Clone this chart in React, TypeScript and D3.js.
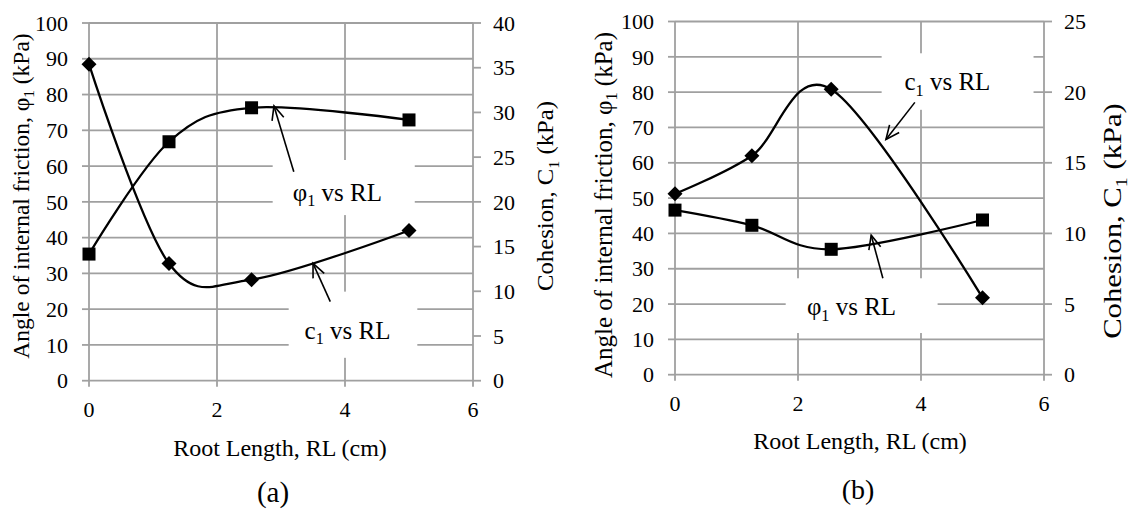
import React from "react";
import * as d3 from "d3";

// Root length (cm) at which the samples were tested
const rootLength = [0, 1.25, 2.54, 5];

// panel (a)
const phiA = [35.4, 66.8, 76.3, 72.9];
const cohesionA = [35.4, 13.1, 11.3, 16.8];

// panel (b)
const phiB = [46.6, 42.3, 35.5, 43.8];
const cohesionB = [12.8, 15.5, 20.2, 5.45];

const xTicks = [0, 2, 4, 6];
const leftTicks = [0, 10, 20, 30, 40, 50, 60, 70, 80, 90, 100];
const rightTicksA = [0, 5, 10, 15, 20, 25, 30, 35, 40];
const rightTicksB = [0, 5, 10, 15, 20, 25];

const FONT = "Liberation Serif, Times New Roman, serif";
const GRID = "#a0a0a0";

type Note = {
  sym: string;
  text: [number, number];
  box: [number, number, number, number];
  arrow: [number, number, number, number];
};

type PanelProps = {
  xr: [number, number];
  yr: [number, number];
  rightTicks: number[];
  phi: number[];
  coh: number[];
  notes: Note[];
  yTitle: [number, number, number];
  rTitle: [number, number, number, number];
  xTitle: [number, number];
  caption: [number, number, number, string];
};

const Label = ({ x, y, sym, size }: { x: number; y: number; sym: string; size: number }) => (
  <text x={x} y={y} textAnchor="middle" dy="0.35em" style={{ fontSize: size }}>
    {sym}
    <tspan style={{ fontSize: size * 0.65 }} dy={size * 0.22}>1</tspan>
    <tspan dy={-size * 0.22}> vs RL</tspan>
  </text>
);

const Panel = ({ xr, yr, rightTicks, phi, coh, notes, yTitle, rTitle, xTitle, caption }: PanelProps) => {
  const x = d3.scaleLinear().domain([0, 6]).range(xr);
  const yL = d3.scaleLinear().domain([0, 100]).range(yr);
  const rMax = rightTicks[rightTicks.length - 1];
  const yR = d3.scaleLinear().domain([0, rMax]).range(yr);

  // Excel style smoothed line ~ uniform Catmull-Rom
  const curve = d3.curveCardinal.tension(0);
  const phiLine = d3
    .line<number>()
    .x((_, i) => x(rootLength[i]))
    .y((d) => yL(d))
    .curve(curve);
  const cohLine = d3
    .line<number>()
    .x((_, i) => x(rootLength[i]))
    .y((d) => yR(d))
    .curve(curve);

  const [xa, xb] = xr;
  const [yb, yt] = yr;

  const arrow = (n: Note) => {
    const [fx, fy, tx, ty] = n.arrow;
    const x1 = x(fx), y1 = yL(fy), x2 = x(tx), y2 = yL(ty);
    const ang = Math.atan2(y1 - y2, x1 - x2);
    const len = 15, spread = 0.42;
    const p = (a: number) => `${x2 + len * Math.cos(a)},${y2 + len * Math.sin(a)}`;
    return (
      <g stroke="#000" strokeWidth={1.6} fill="none">
        <line x1={x1} y1={y1} x2={x2} y2={y2} />
        <polyline points={`${p(ang - spread)} ${x2},${y2} ${p(ang + spread)}`} />
      </g>
    );
  };

  return (
    <g>
      {/* grid */}
      {leftTicks.map((t) => (
        <line key={"h" + t} x1={xa} x2={xb} y1={yL(t)} y2={yL(t)} stroke={GRID} strokeWidth={1.8} />
      ))}
      {xTicks.map((t) => (
        <line key={"v" + t} x1={x(t)} x2={x(t)} y1={yb} y2={yt} stroke={GRID} strokeWidth={1.8} />
      ))}
      {/* tick marks */}
      {leftTicks.map((t) => (
        <line key={"lt" + t} x1={xa - 7} x2={xa} y1={yL(t)} y2={yL(t)} stroke={GRID} strokeWidth={1.8} />
      ))}
      {rightTicks.map((t) => (
        <line key={"rt" + t} x1={xb} x2={xb + 8} y1={yR(t)} y2={yR(t)} stroke={GRID} strokeWidth={1.8} />
      ))}
      {xTicks.map((t) => (
        <line key={"bt" + t} x1={x(t)} x2={x(t)} y1={yb} y2={yb + 6} stroke={GRID} strokeWidth={1.8} />
      ))}

      {/* tick labels */}
      <g style={{ fontSize: 22 }}>
        {leftTicks.map((t) => (
          <text key={"ll" + t} x={xa - 21} y={yL(t)} dy="0.35em" textAnchor="end">{t}</text>
        ))}
        {rightTicks.map((t) => (
          <text key={"rl" + t} x={xb + 20} y={yR(t)} dy="0.35em" textAnchor="start">{t}</text>
        ))}
        {xTicks.map((t) => (
          <text key={"bl" + t} x={x(t)} y={yb + 36} textAnchor="middle">{t}</text>
        ))}
      </g>

      {/* annotation boxes hide the grid */}
      {notes.map((n, i) => (
        <rect
          key={"b" + i}
          x={x(n.box[0])}
          y={yL(n.box[3])}
          width={x(n.box[1]) - x(n.box[0])}
          height={yL(n.box[2]) - yL(n.box[3])}
          fill="#fff"
        />
      ))}
      {notes.map((n, i) => (
        <g key={"n" + i}>
          <Label x={x(n.text[0])} y={yL(n.text[1])} sym={n.sym} size={25} />
          {arrow(n)}
        </g>
      ))}

      {/* series */}
      <path d={phiLine(phi) ?? ""} fill="none" stroke="#000" strokeWidth={2.3} />
      <path d={cohLine(coh) ?? ""} fill="none" stroke="#000" strokeWidth={2.3} />
      {phi.map((d, i) => (
        <rect key={"s" + i} x={x(rootLength[i]) - 6.5} y={yL(d) - 6.5} width={13} height={13} fill="#000" />
      ))}
      {coh.map((d, i) => (
        <path
          key={"d" + i}
          transform={`translate(${x(rootLength[i])},${yR(d)})`}
          d="M0,-7.5L7.5,0L0,7.5L-7.5,0Z"
          fill="#000"
        />
      ))}

      {/* axis titles */}
      <text transform={`translate(${yTitle[0]},${yTitle[1]}) rotate(-90)`} textAnchor="middle" dy="0.35em" style={{ fontSize: yTitle[2] }}>
        Angle of internal friction, φ
        <tspan style={{ fontSize: yTitle[2] * 0.65 }} dy={yTitle[2] * 0.22}>1</tspan>
        <tspan dy={-yTitle[2] * 0.22}> (kPa)</tspan>
      </text>
      <text
        transform={`translate(${rTitle[0]},${rTitle[1]}) rotate(-90) scale(${rTitle[3]},1)`}
        textAnchor="middle"
        dy="0.35em"
        style={{ fontSize: rTitle[2] }}
      >
        Cohesion, C
        <tspan style={{ fontSize: rTitle[2] * 0.65 }} dy={rTitle[2] * 0.22}>1</tspan>
        <tspan dy={-rTitle[2] * 0.22}> (kPa)</tspan>
      </text>
      <text x={xTitle[0]} y={xTitle[1]} textAnchor="middle" style={{ fontSize: 24 }}>
        Root Length, RL (cm)
      </text>
      <text x={caption[0]} y={caption[1]} textAnchor="middle" style={{ fontSize: caption[2] }}>
        {caption[3]}
      </text>
    </g>
  );
};

const notesA: Note[] = [
  { sym: "φ", text: [3.88, 52.8], box: [2.87, 5.09, 46.3, 61.7], arrow: [3.2, 58.4, 2.89, 76.8] },
  { sym: "c", text: [4.04, 14.2], box: [3.12, 5.13, 6.4, 24.9], arrow: [3.77, 22.1, 3.5, 32.8] },
];

const notesB: Note[] = [
  { sym: "c", text: [4.43, 83], box: [3.36, 5.83, 75, 91], arrow: [3.9, 77.1, 3.43, 66.6] },
  { sym: "φ", text: [2.87, 19.3], box: [1.8, 4.27, 11.8, 27.3], arrow: [3.38, 27.3, 3.19, 39.5] },
];

export default function App() {
  return (
    <svg
      width={1130}
      height={510}
      style={{ position: "absolute", left: 0, top: 0, background: "#fff", fontFamily: FONT }}
      fill="#000"
    >
      <Panel
        xr={[89, 473]}
        yr={[380.7, 23]}
        rightTicks={rightTicksA}
        phi={phiA}
        coh={cohesionA}
        notes={notesA}
        yTitle={[21, 196, 23.5]}
        rTitle={[545, 196, 24, 1.03]}
        xTitle={[280, 456]}
        caption={[273, 502, 29, "(a)"]}
      />
      <Panel
        xr={[675, 1044]}
        yr={[374.7, 21.5]}
        rightTicks={rightTicksB}
        phi={phiB}
        coh={cohesionB}
        notes={notesB}
        yTitle={[603, 205, 25]}
        rTitle={[1112, 221, 26, 1.18]}
        xTitle={[860, 449]}
        caption={[858, 499, 28, "(b)"]}
      />
    </svg>
  );
}
